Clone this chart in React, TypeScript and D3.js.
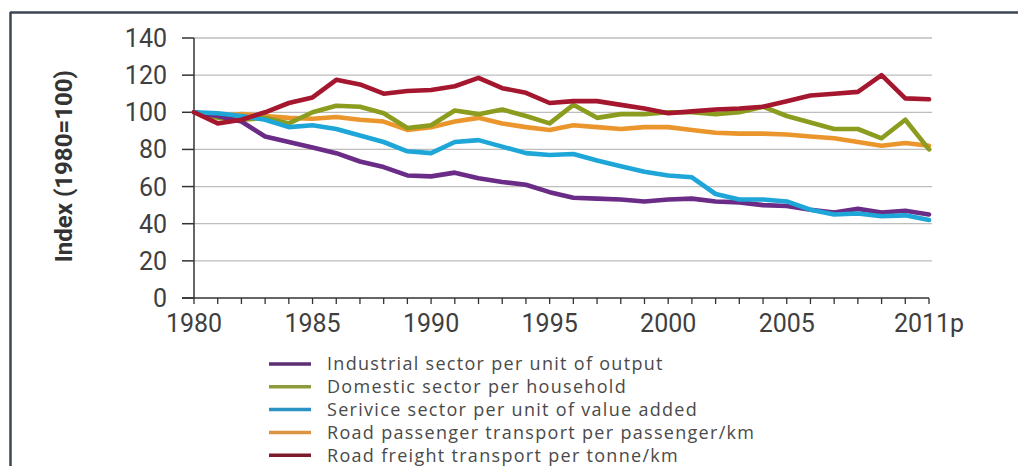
import React from "react";
import * as d3 from "d3";

const years = [1980,1981,1982,1983,1984,1985,1986,1987,1988,1989,1990,1991,1992,1993,1994,1995,1996,1997,1998,1999,2000,2001,2002,2003,2004,2005,2006,2007,2008,2009,2010,2011];
const industrial = [100,98,95,87,84,81,78,73.5,70.5,66,65.5,67.5,64.5,62.5,61,57,54,53.5,53,52,53,53.5,52,51.5,50,49.5,47.5,46,48,46,47,45];
const domestic = [100,97,96,97,94,100,103.5,103,99.5,91.5,93,101,99,101.5,98,94,104,97,99,99,100,100,99,100,103,98,94.5,91,91,86,96,80];
const service = [100,99.5,98,96,92,93,91,87.5,84,79,78,84,85,81.5,78,77,77.5,74,71,68,66,65,56,53,53,52,47.5,45,45.5,44,44.5,42];
const passenger = [100,98,99,98,97,96.5,97.5,96,95,90.5,92,95,97,94,92,90.5,93,92,91,92,92,90.5,89,88.5,88.5,88,87,86,84,82,83.5,82];
const freight = [100,94,96,100,105,108,117.5,115,110,111.5,112,114,118.5,113,110.5,105,106,106,104,102,99.5,100.5,101.5,102,103,106,109,110,111,120,107.5,107];

const yTicks = [0,20,40,60,80,100,120,140];
const xTickLabels = [
  { year: 1980, label: "1980" },
  { year: 1985, label: "1985" },
  { year: 1990, label: "1990" },
  { year: 1995, label: "1995" },
  { year: 2000, label: "2000" },
  { year: 2005, label: "2005" },
  { year: 2011, label: "2011p" },
];

const seriesNames = [
  "Industrial sector per unit of output",
  "Domestic sector per household",
  "Serivice sector per unit of value added",
  "Road passenger transport per passenger/km",
  "Road freight transport per tonne/km",
];
const seriesColors = ["#6a2c86", "#8c9c1e", "#1ea6d8", "#eb962c", "#a5172e"];
const legendColors = ["#5e2d72", "#8e9a3c", "#2a93c4", "#dc9442", "#7d1a2c"];
const seriesValues = [industrial, domestic, service, passenger, freight];
const drawOrder = [3, 1, 0, 2, 4];

export default function App() {
  const W = 1018, H = 466;
  const x = d3.scaleLinear().domain([1980, 2011]).range([194, 929]);
  const y = d3.scaleLinear().domain([0, 140]).range([298, 38]);
  const line = d3.line<number>()
    .x((_, i) => x(years[i]))
    .y((d) => y(d));

  return (
    <svg width={W} height={H} style={{ position: "absolute", left: 0, top: 0, background: "#fff" }}>
      <rect x={0} y={0} width={W} height={H} fill="#fff" />
      {/* frame */}
      <line x1={10} y1={12.5} x2={W} y2={12.5} stroke="#3b4652" strokeWidth={2.5} />
      <line x1={10.5} y1={12} x2={10.5} y2={H} stroke="#3b4652" strokeWidth={2.5} />

      {/* gridlines */}
      {yTicks.filter((t) => t > 0).map((t) => (
        <line key={"g" + t} x1={x(1980)} x2={x(2011) + 3} y1={y(t)} y2={y(t)} stroke="#bdbdbd" strokeWidth={1.3} />
      ))}

      {/* y axis */}
      <line x1={x(1980)} x2={x(1980)} y1={y(140)} y2={y(0)} stroke="#333" strokeWidth={1.5} />
      {yTicks.map((t) => (
        <g key={"yt" + t}>
          <line x1={x(1980) - 12} x2={x(1980)} y1={y(t)} y2={y(t)} stroke="#333" strokeWidth={1.5} />
          <text x={x(1980) - 27} y={y(t)} dy="0.36em" textAnchor="end" fontFamily="Roboto" fontSize={25} fill="#3f3f3f">{t}</text>
        </g>
      ))}

      {/* x axis */}
      <line x1={x(1980) - 12} x2={x(2011)} y1={y(0)} y2={y(0)} stroke="#333" strokeWidth={1.5} />
      {years.map((yr) => (
        <line key={"xt" + yr} x1={x(yr)} x2={x(yr)} y1={y(0)} y2={y(0) + 6} stroke="#333" strokeWidth={1.3} />
      ))}
      {xTickLabels.map((d) => (
        <text key={"xl" + d.year} x={x(d.year)} y={y(0) + 34} textAnchor="middle" fontFamily="Roboto" fontSize={25} fill="#3f3f3f">{d.label}</text>
      ))}

      {/* y title */}
      <text transform={`translate(72, ${y(71)}) rotate(-90)`} textAnchor="middle" fontFamily="Roboto" fontWeight="bold" fontSize={24} fill="#333">Index (1980=100)</text>

      {/* series */}
      {drawOrder.map((si) => (
        <path key={"s" + si} d={line(seriesValues[si]) || ""} fill="none" stroke={seriesColors[si]} strokeWidth={4.6} strokeLinejoin="round" strokeLinecap="round" />
      ))}

      {/* legend */}
      {seriesNames.map((name, i) => {
        const cy = 364 + i * 22.8;
        return (
          <g key={"lg" + i}>
            <line x1={269} x2={311} y1={cy} y2={cy} stroke={legendColors[i]} strokeWidth={3.5} />
            <text x={327} y={cy} dy="0.35em" fontFamily="Open Sans" fontSize={18} fill="#4a4a4a" letterSpacing={1.3}>{name}</text>
          </g>
        );
      })}
    </svg>
  );
}
